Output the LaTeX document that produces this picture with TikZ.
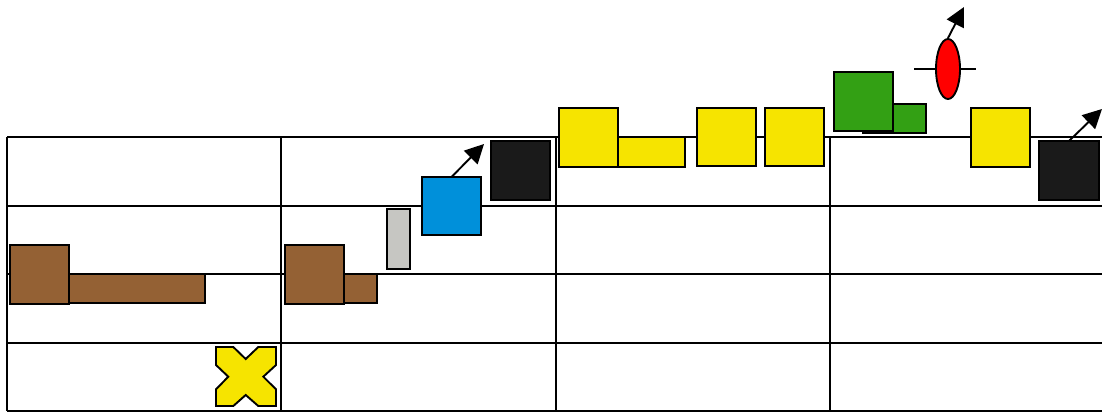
\documentclass[tikz,border=0pt]{standalone}
\usetikzlibrary{arrows.meta,shapes.geometric}
\definecolor{cbrown}{HTML}{946134}
\definecolor{cyellow}{HTML}{F6E400}
\definecolor{cblue}{HTML}{0090DA}
\definecolor{cblack}{HTML}{1A1A1A}
\definecolor{cgray}{HTML}{C6C6C2}
\definecolor{cgreen}{HTML}{33A014}
\definecolor{cred}{HTML}{FF0000}
\tikzset{
  gridline/.style={line width=1.9pt, black},
  box/.style={draw=black, line width=1.9pt, inner sep=0pt, outer sep=0pt, rectangle},
  arr/.style={line width=1.9pt, -{Triangle[length=19pt,width=19pt]}},
}
\begin{document}
\begin{tikzpicture}[x=1pt,y=-1pt]
\useasboundingbox (0,0) rectangle (1102,412);
% grid
\foreach \yy in {137,206,274,343,411} \draw[gridline] (7,\yy) -- (1102,\yy);
\foreach \xx in {7,281,556,830} \draw[gridline] (\xx,137) -- (\xx,411);
% brown left
\node[box, fill=cbrown, minimum width=136, minimum height=29] (br1) at (137,288.5) {};
\node[box, fill=cbrown, minimum width=59, minimum height=59] (bs1) at (39.5,274.5) {};
% brown right
\node[box, fill=cbrown, minimum width=33, minimum height=29] (br2) at (360.5,288.5) {};
\node[box, fill=cbrown, minimum width=59, minimum height=59] (bs2) at (314.5,274.5) {};
% gray
\node[box, fill=cgray, minimum width=23, minimum height=60] (gr) at (398.5,239) {};
% blue
\node[box, fill=cblue, minimum width=59, minimum height=58] (bl) at (451.5,206) {};
\coordinate (blt) at (484,144);
\draw[arr] (bl.north) -- (blt);
% black 1
\node[box, fill=cblack, minimum width=59, minimum height=59] (k1) at (520.5,170.5) {};
% yellow group
\node[box, fill=cyellow, minimum width=67, minimum height=30] (yr) at (651.5,152) {};
\node[box, fill=cyellow, minimum width=59, minimum height=59] (y1) at (588.5,137.5) {};
\node[box, fill=cyellow, minimum width=59, minimum height=58] (y2) at (726.5,137) {};
\node[box, fill=cyellow, minimum width=59, minimum height=58] (y3) at (794.5,137) {};
% green
\node[box, fill=cgreen, minimum width=63, minimum height=29] (gs) at (894.5,118.5) {};
\node[box, fill=cgreen, minimum width=59, minimum height=59] (gb) at (863.5,101.5) {};
% red ellipse
\coordinate (hl) at (914,69);
\coordinate (hr) at (976,69);
\draw[line width=1.9pt] (hl) -- (hr);
\node[draw=black, line width=1.9pt, fill=cred, ellipse, inner sep=0pt, minimum width=24, minimum height=60] (el) at (948,69) {};
\coordinate (elt) at (964,7);
\draw[arr] (el.north) -- (elt);
% yellow 4
\node[box, fill=cyellow, minimum width=59, minimum height=59] (y4) at (1000.5,137.5) {};
% black 2
\node[box, fill=cblack, minimum width=60, minimum height=59] (k2) at (1069,170.5) {};
\coordinate (k2t) at (1102,109);
\draw[arr] (k2.north) -- (k2t);
% yellow cross
\draw[line width=1.9pt, fill=cyellow, line join=miter]
  (216,347) -- (233.3,347) -- (245.7,359) -- (258.3,347) -- (276,347) -- (276,365)
  -- (263.3,376.7) -- (276,389.3) -- (276,406) -- (258.3,406) -- (245.7,395)
  -- (233.3,406) -- (216,406) -- (216,389.3) -- (228.3,376.7) -- (216,365) -- cycle;
\end{tikzpicture}
\end{document}
